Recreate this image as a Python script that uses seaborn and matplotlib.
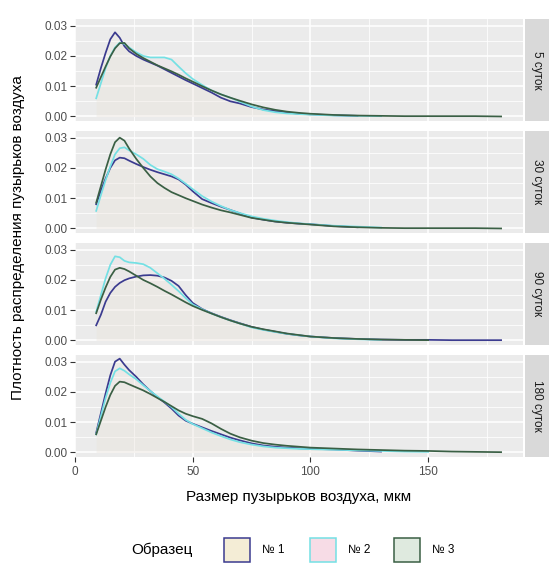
import numpy as np
import pandas as pd
import seaborn as sns
import matplotlib.pyplot as plt
from matplotlib.patches import Rectangle

nan = np.nan

# bubble size grid, um
sizes = [9, 11, 13, 15, 17, 19, 21, 23, 26, 29, 32, 35, 38, 41, 44, 47, 50, 54, 58,
         62, 66, 70, 75, 80, 85, 90, 95, 100, 110, 120, 130, 140, 150, 160, 170, 181]

periods = ["5 суток", "30 суток", "90 суток", "180 суток"]
samples = ["№ 1", "№ 2", "№ 3"]

# density values (NaN = beyond the data range)
d5_n1 = [0.0105, 0.0160, 0.0210, 0.0255, 0.0278, 0.0260, 0.0232, 0.0215, 0.0200, 0.0188, 0.0178, 0.0168,
         0.0156, 0.0144, 0.0132, 0.0120, 0.0109, 0.0094, 0.0079, 0.0062, 0.0050, 0.0043, 0.0031, 0.0023,
         0.0018, 0.0013, 0.0009, 0.0007, 0.0004, 0.0002, nan, nan, nan, nan, nan, nan]
d5_n2 = [0.0060, 0.0110, 0.0160, 0.0200, 0.0228, 0.0244, 0.0240, 0.0228, 0.0212, 0.0200, 0.0195, 0.0195,
         0.0195, 0.0188, 0.0165, 0.0143, 0.0124, 0.0104, 0.0086, 0.0073, 0.0062, 0.0049, 0.0033, 0.0021,
         0.0014, 0.0010, 0.0008, 0.0006, 0.0003, 0.0002, 0.0001, nan, nan, nan, nan, nan]
d5_n3 = [0.0095, 0.0130, 0.0165, 0.0198, 0.0225, 0.0242, 0.0243, 0.0225, 0.0207, 0.0193, 0.0181, 0.0169,
         0.0159, 0.0149, 0.0138, 0.0126, 0.0115, 0.0100, 0.0086, 0.0073, 0.0062, 0.0052, 0.0040, 0.0030,
         0.0022, 0.0016, 0.0012, 0.0009, 0.0005, 0.0003, 0.0002, 0.0001, 0.0001, 0.0001, 0.0001, 0.0000]

d30_n1 = [0.0080, 0.0125, 0.0165, 0.0200, 0.0225, 0.0234, 0.0232, 0.0224, 0.0213, 0.0203, 0.0194, 0.0186,
          0.0179, 0.0172, 0.0162, 0.0145, 0.0123, 0.0097, 0.0084, 0.0072, 0.0061, 0.0050, 0.0036, 0.0029,
          0.0023, 0.0019, 0.0016, 0.0014, 0.0008, 0.0004, nan, nan, nan, nan, nan, nan]
d30_n2 = [0.0058, 0.0110, 0.0160, 0.0205, 0.0245, 0.0265, 0.0268, 0.0258, 0.0245, 0.0230, 0.0210, 0.0196,
          0.0188, 0.0179, 0.0165, 0.0148, 0.0130, 0.0107, 0.0089, 0.0074, 0.0061, 0.0051, 0.0040, 0.0032,
          0.0026, 0.0021, 0.0017, 0.0014, 0.0009, 0.0006, 0.0003, nan, nan, nan, nan, nan]
d30_n3 = [0.0085, 0.0140, 0.0195, 0.0245, 0.0285, 0.0300, 0.0290, 0.0264, 0.0230, 0.0200, 0.0172, 0.0150,
          0.0134, 0.0120, 0.0110, 0.0100, 0.0091, 0.0079, 0.0069, 0.0060, 0.0053, 0.0045, 0.0035, 0.0029,
          0.0023, 0.0019, 0.0016, 0.0013, 0.0007, 0.0004, 0.0002, 0.0001, 0.0001, 0.0001, 0.0001, 0.0000]

d90_n1 = [0.0050, 0.0085, 0.0128, 0.0157, 0.0177, 0.0190, 0.0199, 0.0205, 0.0211, 0.0215, 0.0216, 0.0214,
          0.0208, 0.0197, 0.0180, 0.0150, 0.0124, 0.0104, 0.0090, 0.0078, 0.0067, 0.0057, 0.0045, 0.0036,
          0.0029, 0.0022, 0.0017, 0.0013, 0.0008, 0.0005, 0.0003, 0.0002, 0.0002, 0.0001, 0.0001, 0.0001]
d90_n2 = [0.0095, 0.0150, 0.0205, 0.0250, 0.0278, 0.0275, 0.0263, 0.0258, 0.0256, 0.0252, 0.0240, 0.0222,
          0.0204, 0.0184, 0.0163, 0.0140, 0.0119, 0.0103, 0.0089, 0.0077, 0.0066, 0.0056, 0.0043, 0.0035,
          0.0028, 0.0022, 0.0017, 0.0013, 0.0007, 0.0004, 0.0002, nan, nan, nan, nan, nan]
d90_n3 = [0.0090, 0.0135, 0.0175, 0.0210, 0.0234, 0.0240, 0.0236, 0.0228, 0.0214, 0.0200, 0.0189, 0.0177,
          0.0164, 0.0152, 0.0139, 0.0126, 0.0114, 0.0101, 0.0089, 0.0077, 0.0066, 0.0056, 0.0045, 0.0037,
          0.0030, 0.0023, 0.0018, 0.0013, 0.0008, 0.0005, 0.0003, 0.0002, 0.0001, nan, nan, nan]

d180_n1 = [0.0065, 0.0130, 0.0195, 0.0255, 0.0300, 0.0310, 0.0290, 0.0272, 0.0250, 0.0225, 0.0203, 0.0183,
           0.0165, 0.0145, 0.0122, 0.0105, 0.0095, 0.0083, 0.0071, 0.0060, 0.0049, 0.0040, 0.0030, 0.0023,
           0.0019, 0.0016, 0.0014, 0.0012, 0.0010, 0.0006, 0.0003, nan, nan, nan, nan, nan]
d180_n2 = [0.0060, 0.0120, 0.0180, 0.0230, 0.0268, 0.0278, 0.0270, 0.0258, 0.0242, 0.0222, 0.0203, 0.0185,
           0.0168, 0.0150, 0.0128, 0.0108, 0.0094, 0.0080, 0.0066, 0.0054, 0.0043, 0.0034, 0.0026, 0.0020,
           0.0016, 0.0014, 0.0012, 0.0011, 0.0009, 0.0007, 0.0005, 0.0003, 0.0002, nan, nan, nan]
d180_n3 = [0.0060, 0.0105, 0.0150, 0.0190, 0.0220, 0.0234, 0.0232, 0.0225, 0.0215, 0.0205, 0.0193, 0.0180,
           0.0167, 0.0153, 0.0139, 0.0128, 0.0120, 0.0111, 0.0096, 0.0078, 0.0062, 0.0050, 0.0039, 0.0031,
           0.0026, 0.0022, 0.0019, 0.0016, 0.0013, 0.0010, 0.0008, 0.0006, 0.0005, 0.0003, 0.0002, 0.0001]

curves = {
    "5 суток": [d5_n1, d5_n2, d5_n3],
    "30 суток": [d30_n1, d30_n2, d30_n3],
    "90 суток": [d90_n1, d90_n2, d90_n3],
    "180 суток": [d180_n1, d180_n2, d180_n3],
}

rows = []
for p in periods:
    for s, vals in zip(samples, curves[p]):
        for x, y in zip(sizes, vals):
            rows.append((p, s, x, y))
df = pd.DataFrame(rows, columns=["period", "sample", "size", "density"]).dropna()

line_colors = {"№ 1": "#3b3b8f", "№ 2": "#74e0e4", "№ 3": "#3a5f44"}
fill_colors = {"№ 1": "#f4edd6", "№ 2": "#f7dce6", "№ 3": "#dfeadf"}

plt.rcParams["font.family"] = ["Liberation Sans", "DejaVu Sans"]

W, H = 554, 570
fig = plt.figure(figsize=(W / 100, H / 100), dpi=100)

left, right = 75, 523
top0, ph, step = 19, 102, 112

for i, p in enumerate(periods):
    top = top0 + i * step
    ax = fig.add_axes([left / W, 1 - (top + ph) / H, (right - left) / W, ph / H])
    ax.set_facecolor("#ebebeb")
    sub = df[df["period"] == p]
    for s in samples:
        g = sub[sub["sample"] == s]
        ax.fill_between(g["size"], 0, g["density"], color=fill_colors[s], alpha=0.15, lw=0, zorder=2)
    sns.lineplot(data=sub, x="size", y="density", hue="sample", palette=line_colors,
                 estimator=None, sort=False, lw=1.25, legend=False, ax=ax, zorder=3)
    ax.set_xlim(0.4, 190.3)
    ax.set_ylim(-0.0015, 0.0322)
    ax.set_xticks([0, 50, 100, 150])
    ax.set_xticks([25, 75, 125, 175], minor=True)
    ax.set_yticks([0.0, 0.01, 0.02, 0.03])
    ax.set_yticks([0.005, 0.015, 0.025], minor=True)
    ax.set_yticklabels(["0.00", "0.01", "0.02", "0.03"])
    ax.grid(which="major", color="white", lw=1.1)
    ax.grid(which="minor", color="white", lw=0.55)
    ax.set_axisbelow(True)
    for sp in ax.spines.values():
        sp.set_visible(False)
    ax.tick_params(which="minor", length=0)
    ax.tick_params(axis="y", which="major", length=3.5, color="#333333", labelsize=8.5,
                   labelcolor="#4d4d4d", pad=2)
    if i == len(periods) - 1:
        ax.tick_params(axis="x", which="major", length=3.5, color="#333333", labelsize=8.5,
                       labelcolor="#4d4d4d", pad=3)
    else:
        ax.tick_params(axis="x", which="major", length=0, labelbottom=False)
    ax.set_xlabel("")
    ax.set_ylabel("")

    st = fig.add_axes([525 / W, 1 - (top + ph) / H, 24 / W, ph / H])
    st.set_facecolor("#d9d9d9")
    st.set_xticks([])
    st.set_yticks([])
    for sp in st.spines.values():
        sp.set_visible(False)
    st.text(0.5, 0.5, p, rotation=-90, ha="center", va="center", fontsize=8.5,
            color="#1a1a1a", transform=st.transAxes)

panel_bottom = top0 + 3 * step + ph
fig.text(18 / W, 1 - (top0 + panel_bottom) / 2 / H, "Плотность распределения пузырьков воздуха",
         rotation=90, ha="center", va="center", fontsize=11)
fig.text((left + right) / 2 / W, 1 - 497 / H, "Размер пузырьков воздуха, мкм",
         ha="center", va="center", fontsize=11)

# legend at the bottom
ly = 550
fig.text(131 / W, 1 - ly / H, "Образец", ha="left", va="center", fontsize=11)
for kx, s in zip([224, 310, 394], samples):
    fig.add_artist(Rectangle((kx / W, 1 - (ly + 12) / H), 26 / W, 24 / H,
                             transform=fig.transFigure, facecolor=fill_colors[s],
                             edgecolor=line_colors[s], lw=1.1))
    fig.text((kx + 38) / W, 1 - ly / H, s, ha="left", va="center", fontsize=8.5)

fig.savefig("out.png", dpi=100, facecolor="white")
